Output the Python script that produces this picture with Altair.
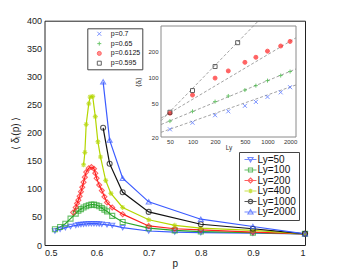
import altair as alt
import pandas as pd

FONT = "Liberation Sans"

# ---------------- main panel data ----------------
LY_LABELS = ["Ly=50", "Ly=100", "Ly=200", "Ly=400", "Ly=1000", "Ly=2000"]
LY_COLORS = ["#3b5bff", "#2aa52a", "#ff1f1f", "#b4d600", "#111111", "#3b5bff"]
ASTER = "M-1,0H1M0,-1V1M-0.7,-0.7L0.7,0.7M-0.7,0.7L0.7,-0.7"
LY_SHAPES = ["triangle-down", "square", "diamond", ASTER, "circle", "triangle-up"]
# legend glyphs: short line sample with the marker on it
SEG = "M-2.4,0H2.4"
LY_LEGEND_GLYPHS = [
    SEG + "M-1,-0.8H1L0,0.9Z",
    SEG + "M-0.8,-0.8H0.8V0.8H-0.8Z",
    SEG + "M0,-1L1,0L0,1L-1,0Z",
    SEG + "M0,-0.9V0.9M-0.65,-0.65L0.65,0.65M-0.65,0.65L0.65,-0.65",
    SEG + "M0.85,0A0.85,0.85,0,1,1,-0.85,0A0.85,0.85,0,1,1,0.85,0Z",
    SEG + "M-1,0.8H1L0,-0.9Z",
]

p_50 = [0.52, 0.53, 0.54, 0.55, 0.56, 0.565, 0.57, 0.575, 0.58, 0.585, 0.59, 0.595,
        0.6, 0.605, 0.61, 0.62, 0.63, 0.65, 0.7, 0.75, 0.8, 0.9, 1.0]
d_50 = [25, 28, 31, 33, 35, 36, 36.5, 37, 37.5, 38, 38, 38,
        38, 37.5, 37, 36, 35, 31, 25, 23, 22, 21, 20]

p_100 = [0.52, 0.53, 0.54, 0.55, 0.56, 0.565, 0.57, 0.575, 0.58, 0.585, 0.59, 0.595,
         0.6, 0.605, 0.61, 0.615, 0.62, 0.63, 0.65, 0.7, 0.75, 0.8, 0.9, 1.0]
d_100 = [28, 32, 38, 47, 56, 61, 64, 67, 69, 71, 72, 72,
         71, 69, 66, 63, 60, 52, 41, 30, 26, 24, 22, 20]

p_200 = [0.555, 0.56, 0.5625, 0.565, 0.5675, 0.57, 0.5725, 0.575, 0.5775, 0.58, 0.585,
         0.59, 0.595, 0.5975, 0.6, 0.605, 0.61, 0.615, 0.62, 0.63, 0.65, 0.7, 0.75,
         0.8, 0.9, 1.0]
d_200 = [58, 67, 74, 80, 87, 95, 103, 112, 121, 130, 137,
         139, 136, 128, 119, 107, 97, 86, 76, 67, 55, 34, 29,
         27, 23, 20]

p_400 = [0.575, 0.5775, 0.58, 0.585, 0.5875, 0.5925, 0.5975, 0.6025, 0.6075, 0.6175,
         0.6275, 0.65, 0.7, 0.75, 0.8, 0.9, 1.0]
d_400 = [143, 165, 215, 252, 264, 265, 229, 184, 157, 115,
         92, 67, 45, 35, 30, 26, 20]

p_1000 = [0.6125, 0.625, 0.65, 0.7, 0.8, 0.9, 1.0]
d_1000 = [209, 145, 94, 59, 37, 29, 20]

p_2000 = [0.6125, 0.625, 0.65, 0.7, 0.8, 0.9, 1.0]
d_2000 = [291, 187, 119, 77, 46, 33, 20]

series = [(p_50, d_50), (p_100, d_100), (p_200, d_200),
          (p_400, d_400), (p_1000, d_1000), (p_2000, d_2000)]
rows = []
for (ps, ds), lab in zip(series, LY_LABELS):
    for p, d in zip(ps, ds):
        rows.append({"p": p, "d": d, "Ly": lab})
main_df = pd.DataFrame(rows)

# ---------------- inset data ----------------
P_LABELS = ["p=0.7", "p=0.65", "p=0.6125", "p=0.595"]
P_COLORS = ["#4466ff", "#33b033", "#ff2222", "#222222"]
P_FILLS = ["transparent", "transparent", "#ff2222", "transparent"]
P_SHAPES = ["M-1,-1L1,1M-1,1L1,-1", "M-1,0H1M0,-1V1", "circle", "square"]

ly_inset = [50, 100, 200, 300, 500, 700, 1000, 1500, 2000]
d_p07 = [24.6, 29.4, 36, 40, 46.4, 51.6, 59, 66.7, 76.7]
d_p065 = [30.7, 40, 52, 60.5, 71, 80, 91.6, 105, 117]
d_p06125 = [38, 62, 98, 119, 150, 172, 203, 233, 264]
ly_p0595 = [50, 100, 200, 400]
d_p0595 = [39, 70, 134, 255]

# dashed power-law fits (end points)
fit_ly = [38, 2400]
fit_p07 = [22.7, 81.5]
fit_p065 = [28.0, 125.5]
fit_p06125 = [33.3, 291.0]
fit_p0595 = [31.0, 1300.0]

inset_rows = []
for lab, xs, ys in [("p=0.7", ly_inset, d_p07), ("p=0.65", ly_inset, d_p065),
                    ("p=0.6125", ly_inset, d_p06125), ("p=0.595", ly_p0595, d_p0595)]:
    for x, y in zip(xs, ys):
        inset_rows.append({"Lys": x, "dl": y, "P": lab})
inset_df = pd.DataFrame(inset_rows)

fit_rows = []
for lab, ys in [("p=0.7", fit_p07), ("p=0.65", fit_p065),
                ("p=0.6125", fit_p06125), ("p=0.595", fit_p0595)]:
    for x, y in zip(fit_ly, ys):
        fit_rows.append({"Lys": x, "dl": y, "P": lab})
fit_df = pd.DataFrame(fit_rows)

INSET_X_DOMAIN = [38, 2400]
INSET_Y_DOMAIN = [20, 400]
frame_df = pd.DataFrame({"x0": [INSET_X_DOMAIN[0]], "x1": [INSET_X_DOMAIN[1]],
                         "y0": [INSET_Y_DOMAIN[0]], "y1": [INSET_Y_DOMAIN[1]]})

# ---------------- layout ----------------
W, H = 260.5, 224.3
INSET_XR = [116.5, 251.5]
INSET_YR = [116.3, 5.3]

x_main = alt.X("p:Q", scale=alt.Scale(domain=[0.5, 1.0], nice=False, zero=False),
               axis=alt.Axis(title="p", values=[0.5, 0.6, 0.7, 0.8, 0.9, 1.0], format="~g",
                             orient="bottom", labelFontSize=9, labelPadding=3,
                             titleFontSize=10, titleFontWeight="normal", titlePadding=1,
                             ticks=False, domain=False, grid=False, labelColor="#222",
                             titleColor="#222"))
y_main = alt.Y("d:Q", scale=alt.Scale(domain=[0, 400], nice=False),
               axis=alt.Axis(title="⟨ δₗ(p) ⟩", values=list(range(0, 401, 50)),
                             orient="left", labelFontSize=9, labelPadding=3,
                             titleFontSize=10, titleFontWeight="normal", titlePadding=6,
                             ticks=False, domain=False, grid=False, labelColor="#222",
                             titleColor="#222"))

lines = alt.Chart(main_df).mark_line(strokeWidth=1.2).encode(
    x=x_main, y=y_main,
    stroke=alt.Stroke("Ly:N", scale=alt.Scale(domain=LY_LABELS, range=LY_COLORS),
                      legend=None),
    order="p:Q",
)
points = alt.Chart(main_df).mark_point(filled=False, size=25, strokeWidth=1.1).encode(
    x=x_main, y=y_main,
    color=alt.Color("Ly:N", scale=alt.Scale(domain=LY_LABELS, range=LY_COLORS),
                    legend=None),
    shape=alt.Shape("Ly:N", scale=alt.Scale(domain=LY_LABELS, range=LY_SHAPES),
                    legend=None),
)
main = alt.layer(lines, points)

# legend-only layer (no marks drawn): line sample + marker glyphs
main_legend = alt.Legend(title=None, orient="none", legendX=194.5, legendY=131.3,
                         symbolSize=25, symbolStrokeWidth=1.2,
                         labelFontSize=10, labelFont=FONT, labelColor="#111",
                         rowPadding=0.5, padding=2.5, symbolOffset=4, labelOffset=2,
                         strokeColor="#444")
legend_layer = alt.Chart(main_df).mark_point(filled=False, size=25, strokeWidth=1.2).encode(
    color=alt.Color("Ly:N", scale=alt.Scale(domain=LY_LABELS, range=LY_COLORS),
                    legend=main_legend),
    shape=alt.Shape("Ly:N", scale=alt.Scale(domain=LY_LABELS, range=LY_LEGEND_GLYPHS),
                    legend=main_legend),
).transform_filter("false")

# inset
def ix(field):
    return alt.X(f"{field}:Q",
                 scale=alt.Scale(type="log", domain=INSET_X_DOMAIN, range=INSET_XR, nice=False),
                 axis=alt.Axis(title="Ly", values=[50, 100, 200, 500, 1000, 2000], format="d",
                               orient="bottom", offset=-(H - INSET_YR[0]),
                               labelFontSize=6, labelPadding=1.5, titleFontSize=6.5,
                               titleFontWeight="normal", titlePadding=0, ticks=False,
                               domain=False, grid=False, labelColor="#333", titleColor="#333"))

def iy(field):
    return alt.Y(f"{field}:Q",
                 scale=alt.Scale(type="log", domain=INSET_Y_DOMAIN, range=INSET_YR, nice=False),
                 axis=alt.Axis(title="⟨δₗ⟩", values=[20, 50, 100, 200], format="d",
                               orient="left", offset=-INSET_XR[0],
                               labelFontSize=6, labelPadding=3, titleFontSize=7,
                               titleFontWeight="normal", titlePadding=6, ticks=False,
                               domain=False, grid=False, labelColor="#333", titleColor="#333"))

inset_legend = alt.Legend(title=None, orient="none", legendX=42.8, legendY=7.6,
                          symbolSize=16, symbolStrokeWidth=1,
                          labelFontSize=7, labelFont=FONT, labelColor="#111",
                          rowPadding=0.8, padding=2, symbolOffset=6.5, labelOffset=8,
                          strokeColor="#444")

frame = alt.Chart(frame_df).mark_rect(fillOpacity=0, stroke="#8a8a8a", strokeWidth=1).encode(
    x=ix("x0"), x2="x1", y=iy("y0"), y2="y1")
fits = alt.Chart(fit_df).mark_line(strokeDash=[3, 2], color="#8c8c8c", strokeWidth=0.8,
                                   clip=True).encode(
    x=ix("Lys"), y=iy("dl"), detail="P:N")
ipts = alt.Chart(inset_df).mark_point(size=16, strokeWidth=1).encode(
    x=ix("Lys"), y=iy("dl"),
    stroke=alt.Stroke("P:N", scale=alt.Scale(domain=P_LABELS, range=P_COLORS),
                      legend=inset_legend),
    fill=alt.Fill("P:N", scale=alt.Scale(domain=P_LABELS, range=P_FILLS),
                  legend=inset_legend),
    shape=alt.Shape("P:N", scale=alt.Scale(domain=P_LABELS, range=P_SHAPES),
                    legend=inset_legend),
)
inset = alt.layer(frame, fits, ipts)

chart = alt.layer(main, inset, legend_layer).resolve_scale(
    x="independent", y="independent", color="independent", shape="independent",
    stroke="independent", fill="independent",
).properties(
    width=W, height=H,
    padding={"left": 36.5, "top": 12.7, "right": 20, "bottom": 26},
    autosize=alt.AutoSizeParams(type="none"),
).configure(font=FONT).configure_view(stroke="#222", strokeWidth=1)

chart.save("out.html", embed_options={"renderer": "svg", "actions": False})
